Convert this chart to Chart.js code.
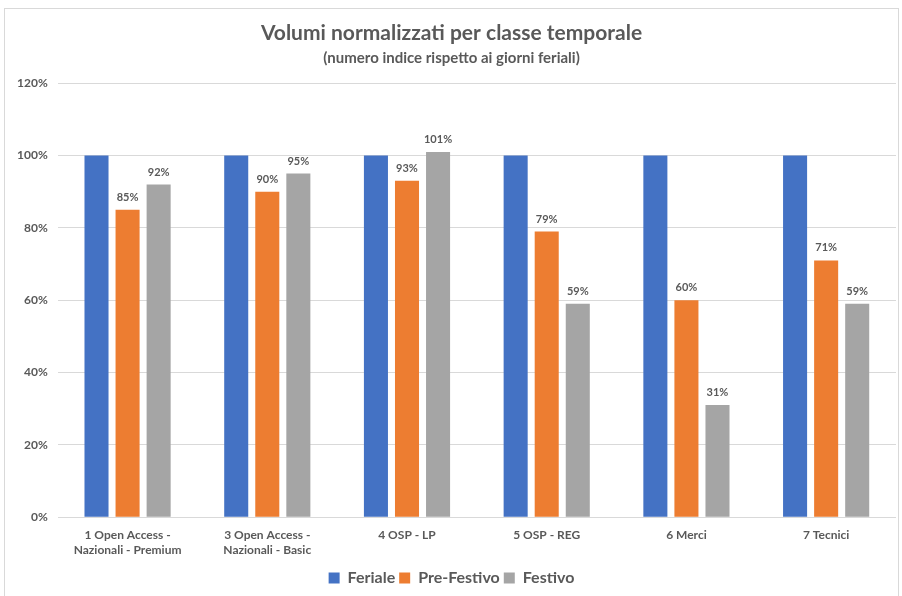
<!DOCTYPE html>
<html>
<head>
<meta charset="utf-8">
<script src="https://cdn.jsdelivr.net/npm/chart.js@4.4.0/dist/chart.umd.min.js"></script>
<style>
    body { margin: 0; background: #fff; }
    #box {
        position: absolute; left: 4px; top: 8px; width: 895px; height: 590px;
        border: 1px solid #d9d9d9; box-sizing: border-box; background: #fff;
    }
</style>
</head>
<body>
<div id="box"><canvas id="chart"></canvas></div>
<script>
var categories = [
    ['1 Open Access -', 'Nazionali - Premium'],
    ['3 Open Access -', 'Nazionali - Basic'],
    '4 OSP - LP',
    '5 OSP - REG',
    '6 Merci',
    '7 Tecnici'
];
var seriesNames = ['Feriale', 'Pre-Festivo', 'Festivo'];
var feriale = [100, 100, 100, 100, 100, 100];
var preFestivo = [85, 90, 93, 79, 60, 71];
var festivo = [92, 95, 101, 59, 31, 59];
var yTicks = [0, 20, 40, 60, 80, 100, 120];

var colors = ['#4472c4', '#ed7d31', '#a5a5a5'];
var textColor = '#595959';
var fontFamily = 'Lato, "Open Sans", sans-serif';

// labels above the bars (not on Feriale)
var barLabels = {
    id: 'barLabels',
    afterDatasetsDraw: function (chart) {
        var ctx = chart.ctx;
        ctx.save();
        ctx.font = 'bold 11px ' + fontFamily;
        ctx.fillStyle = textColor;
        ctx.textAlign = 'center';
        ctx.textBaseline = 'bottom';
        chart.data.datasets.forEach(function (ds, i) {
            if (i === 0) return;
            chart.getDatasetMeta(i).data.forEach(function (bar, j) {
                ctx.fillText(ds.data[j] + '%', bar.x, bar.y - 7);
            });
        });
        ctx.restore();
    }
};

var ctx = document.getElementById('chart').getContext('2d');
var chart = new Chart(ctx, {
    type: 'bar',
    data: {
        labels: categories,
        datasets: [
            { label: seriesNames[0], data: feriale, backgroundColor: colors[0] },
            { label: seriesNames[1], data: preFestivo, backgroundColor: colors[1] },
            { label: seriesNames[2], data: festivo, backgroundColor: colors[2] }
        ]
    },
    options: {
        responsive: true,
        maintainAspectRatio: false,
        animation: false,
        layout: { padding: { left: 2, right: 2, top: 2, bottom: 1 } },
        datasets: {
            bar: { categoryPercentage: 0.667, barPercentage: 0.774 }
        },
        scales: {
            x: {
                grid: { display: false },
                border: { display: false },
                afterFit: function (axis) { axis.height += 6; },
                ticks: {
                    color: textColor,
                    font: { family: fontFamily, size: 12, weight: 'bold' },
                    maxRotation: 0,
                    padding: 3
                }
            },
            y: {
                min: 0,
                max: 120,
                afterBuildTicks: function (axis) {
                    axis.ticks = yTicks.map(function (v) { return { value: v }; });
                },
                grid: { color: '#d9d9d9', drawTicks: false },
                border: { display: false },
                ticks: {
                    color: textColor,
                    font: { family: fontFamily, size: 12, weight: 'bold' },
                    padding: 10,
                    callback: function (v) { return v + '%'; }
                }
            }
        },
        plugins: {
            title: {
                display: true,
                text: 'Volumi normalizzati per classe temporale',
                color: textColor,
                font: { family: fontFamily, size: 21, weight: 'bold' },
                padding: { top: 10, bottom: 3 }
            },
            subtitle: {
                display: true,
                text: '(numero indice rispetto ai giorni feriali)',
                color: textColor,
                font: { family: fontFamily, size: 15, weight: 'bold' },
                padding: { bottom: 16 }
            },
            legend: {
                position: 'bottom',
                labels: {
                    color: textColor,
                    boxWidth: 11,
                    boxHeight: 11,
                    padding: 4,
                    font: { family: fontFamily, size: 16, weight: 'bold' }
                }
            },
            tooltip: { enabled: false }
        }
    },
    plugins: [barLabels]
});
</script>
</body>
</html>
